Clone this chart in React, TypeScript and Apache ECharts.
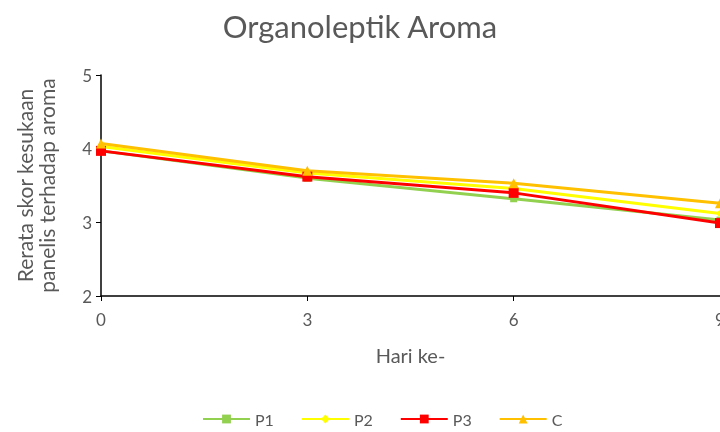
import React, { useEffect, useRef } from "react";
import * as echarts from "echarts";

const days = [0, 3, 6, 9];
const p1 = [3.97, 3.6, 3.32, 3.03];
const p2 = [4.03, 3.67, 3.46, 3.12];
const p3 = [3.97, 3.62, 3.4, 2.99];
const cVals = [4.07, 3.7, 3.53, 3.26];
const seriesNames = ["P1", "P2", "P3", "C"];

const FONT = "Lato, 'Open Sans', sans-serif";
const GRAY = "#595959";

export default function App() {
  const ref = useRef<HTMLDivElement>(null);
  useEffect(() => {
    document.body.style.margin = "0";
    const chart = echarts.init(ref.current!, null, { renderer: "svg" });
    const mk = (name: string, vals: number[], color: string, symbol: string, size: number) => ({
      name,
      type: "line",
      data: days.map((d, i) => [d, vals[i]]),
      symbol,
      symbolSize: size,
      lineStyle: { color, width: 3 },
      itemStyle: { color },
    });
    chart.setOption({
      animation: false,
      textStyle: { fontFamily: FONT },
      title: {
        text: "Organoleptik Aroma",
        left: "center",
        top: 5,
        textStyle: { fontFamily: FONT, fontSize: 31, fontWeight: "normal", color: GRAY },
      },
      grid: { left: 101, right: 0, top: 75, bottom: 136, containLabel: false, outerBoundsMode: "none" },
      xAxis: {
        type: "value",
        min: 0,
        max: 9,
        interval: 3,
        name: "Hari ke-",
        nameLocation: "middle",
        nameGap: 49,
        nameTextStyle: { color: GRAY, fontSize: 20, fontFamily: FONT },
        axisLine: { lineStyle: { color: "#000", width: 1.5 } },
        axisTick: { show: true, length: 5, lineStyle: { color: "#000" } },
        axisLabel: { color: GRAY, fontSize: 17, margin: 15, fontFamily: FONT },
        splitLine: { show: false },
      },
      yAxis: {
        type: "value",
        min: 2,
        max: 5,
        interval: 1,
        name: "Rerata skor kesukaan\npanelis terhadap aroma",
        nameLocation: "middle",
        nameGap: 44,
        nameTextStyle: { color: GRAY, fontSize: 21, fontFamily: FONT, lineHeight: 22 },
        axisLine: { show: true, lineStyle: { color: "#000", width: 1.5 } },
        axisTick: { show: true, length: 5, lineStyle: { color: "#000" } },
        axisLabel: { color: GRAY, fontSize: 17, margin: 9, fontFamily: FONT },
        splitLine: { show: false },
      },
      legend: {
        top: 406,
        left: 197,
        itemWidth: 47,
        itemHeight: 11,
        itemGap: 27,
        data: seriesNames,
        textStyle: { color: GRAY, fontSize: 16, fontFamily: FONT },
      },
      series: [
        mk("P1", p1, "#92D050", "rect", 7),
        mk("P2", p2, "#FFFF00", "diamond", 8),
        mk("P3", p3, "#FF0000", "rect", 10),
        mk("C", cVals, "#FFC000", "triangle", 10),
      ],
    });
    return () => chart.dispose();
  }, []);
  return <div ref={ref} style={{ position: "fixed", left: 0, top: 0, width: 720, height: 432 }} />;
}
